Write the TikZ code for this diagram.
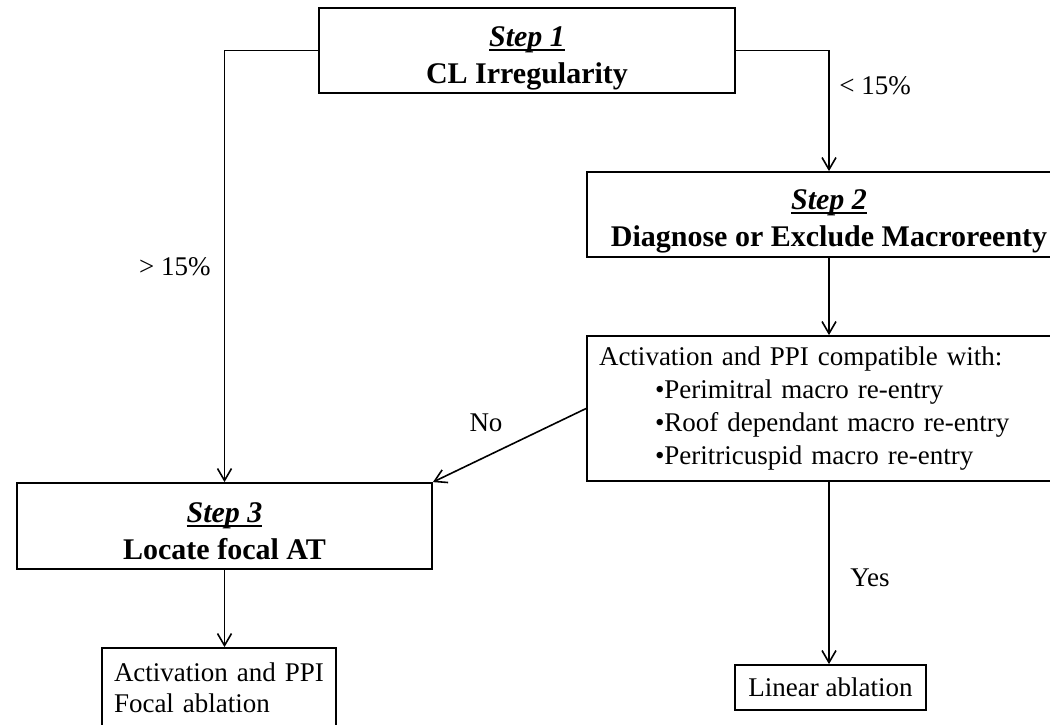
\documentclass[tikz,border=0pt]{standalone}
\usepackage{fontspec}
\setmainfont{Liberation Serif}
\usetikzlibrary{arrows.meta}
\newcommand\stepul[1]{\leavevmode\setbox0\hbox{#1}\rlap{\rule[-2.2pt]{\wd0}{0.8pt}}\copy0}
\begin{document}
\begin{tikzpicture}[x=0.5pt,y=-0.5pt,
  box/.style={draw, line width=0.9pt, inner sep=0pt},
  titlebox/.style={box, align=center, font=\fontsize{15}{18.5}\selectfont\bfseries},
  textbox/.style={box, align=left, inner xsep=6pt, font=\fontsize{13.5}{16.5}\selectfont},
  conn/.style={line width=0.8pt, -{Straight Barb[length=6pt,width=7pt,line width=0.8pt]}},
  lbl/.style={font=\fontsize{13.5}{16}\selectfont, inner sep=0pt}]
\useasboundingbox (0,0) rectangle (1050,724);
% boxes
\node[titlebox, minimum width=208pt, minimum height=42.5pt] (s1) at (527,50.5)
  {\rule{0pt}{18pt}\stepul{\textit{Step 1}}\\CL Irregularity};
\node[titlebox, minimum width=242pt, minimum height=42.5pt] (s2) at (829,214.5)
  {\rule{0pt}{17pt}\stepul{\textit{Step 2}}\\Diagnose or Exclude Macroreenty};
\node[titlebox, minimum width=207.5pt, minimum height=43pt] (s3) at (224.5,526)
  {\rule{0pt}{15pt}\stepul{\textit{Step 3}}\\Locate focal AT};
\node[textbox, text width=230pt, minimum height=72.5pt] (act) at (829,408.5)
  {Activation and PPI compatible with:\\
   \hspace*{28pt}•Perimitral macro re-entry\\
   \hspace*{28pt}•Roof dependant macro re-entry\\
   \hspace*{28pt}•Peritricuspid macro re-entry};
\node[textbox, text width=105pt, minimum height=40pt, font=\fontsize{13.5}{15.5}\selectfont] (fo) at (219,688)
  {Activation and PPI\\Focal ablation};
\node[box, minimum width=95.5pt, minimum height=22.5pt, font=\fontsize{13.5}{16}\selectfont] (lin) at (830.5,687.5)
  {Linear ablation};
% connectors
\draw[conn] (s1.west) -| (s3.north);
\draw[conn] (s1.east) -| (s2.north);
\draw[conn] (s2.south) -- (act.north);
\draw[conn] (act.west) -- (s3.north east);
\draw[conn] (s3.south) -- (s3.south |- fo.north);
\draw[conn] (act.south) -- (act.south |- lin.north);
% labels
\node[lbl, anchor=west] (lt) at (839,86) {< 15\%};
\node[lbl, anchor=east] (gt) at (211,267) {> 15\%};
\node[lbl] (no) at (486,423) {No};
\node[lbl] (yes) at (870,578) {Yes};
\end{tikzpicture}
\end{document}
